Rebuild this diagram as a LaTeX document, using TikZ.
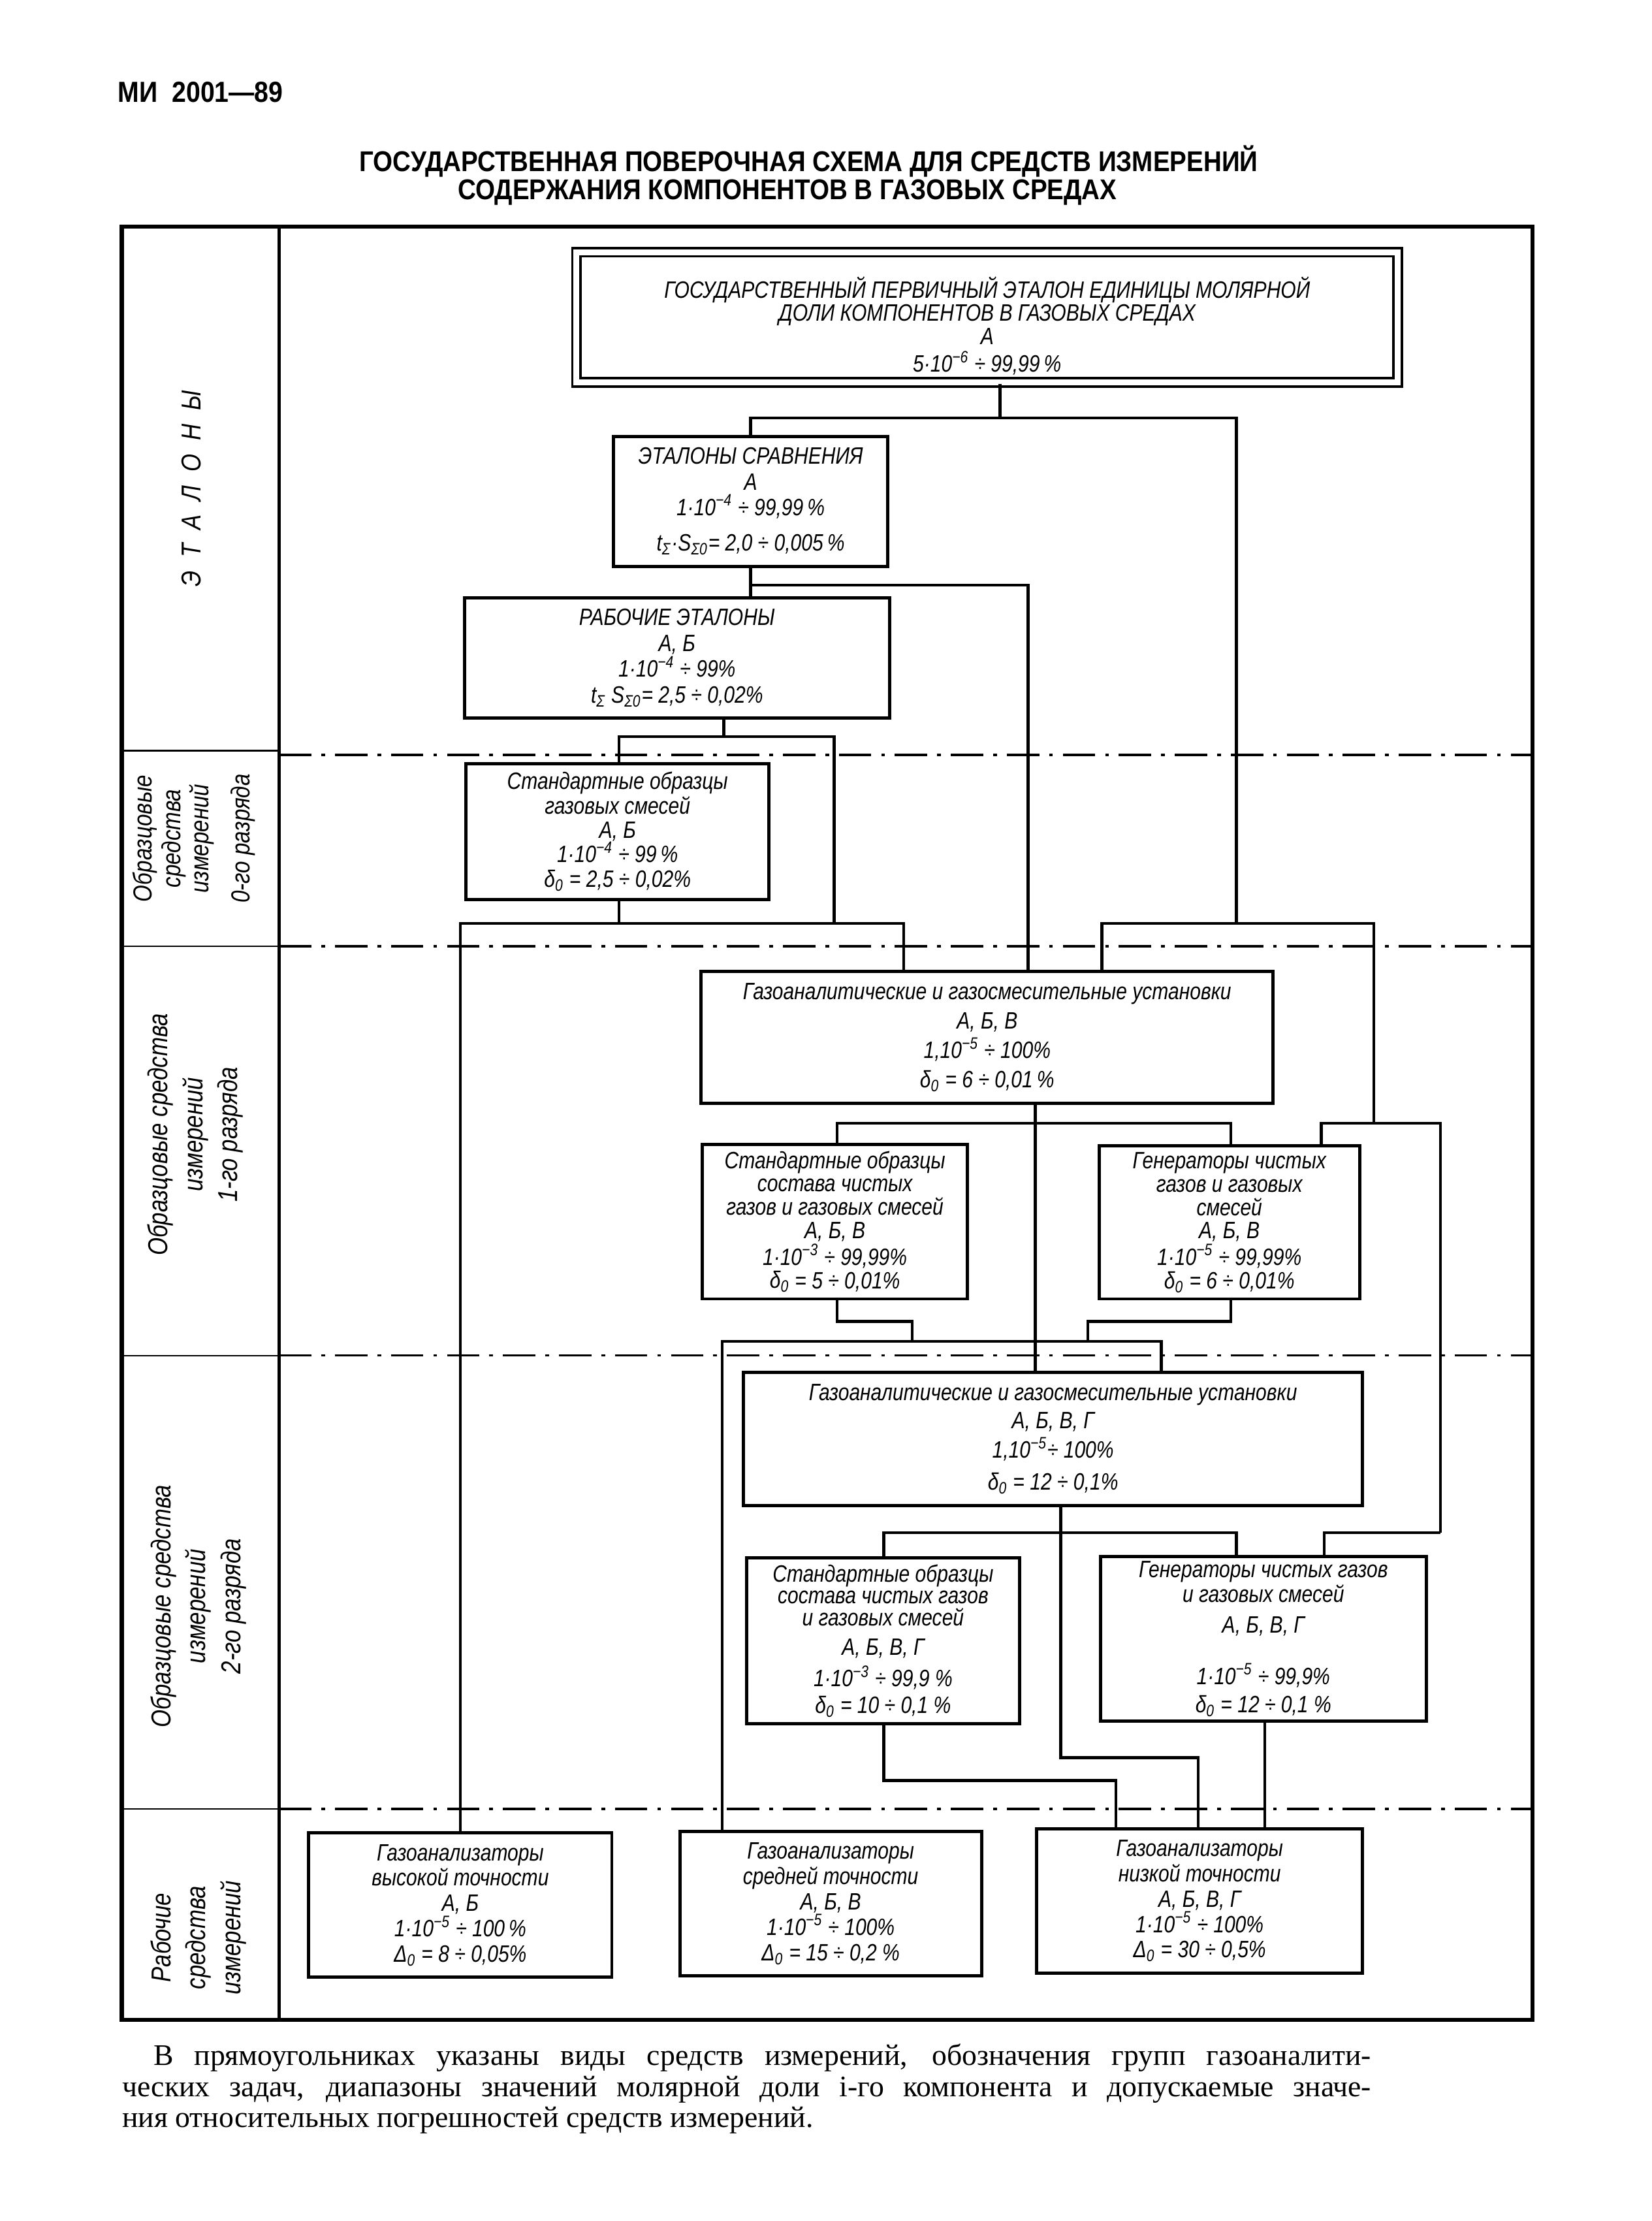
\documentclass[tikz,border=0pt]{standalone}
\usepackage{fontspec}
\setmainfont{Liberation Serif}
\newfontfamily\gostfont[FakeStretch=0.83]{Liberation Sans}
\newfontfamily\headfont[FakeStretch=0.88]{Liberation Sans}

\begin{document}
\begin{tikzpicture}[
    x=0.02cm, y=-0.02cm,
    box/.style={draw, line width=1.3pt, inner sep=0pt, align=center, font=\gostfont\itshape\fontsize{9.5}{9.8}\selectfont},
    densebox/.style={box, font=\gostfont\itshape\fontsize{9.5}{9.4}\selectfont},
    tightbox/.style={box, font=\gostfont\itshape\fontsize{9.5}{8.8}\selectfont},
    mainbox/.style={box, double, double distance=2.4pt, line width=1pt, font=\gostfont\itshape\fontsize{9.5}{9.3}\selectfont},
    link/.style={line width=1.2pt},
    sep/.style={line width=0.9pt, dash pattern=on 13pt off 4pt on 1.5pt off 4pt},
    rowlabel/.style={rotate=90, align=center, font=\gostfont\itshape\fontsize{11}{14}\selectfont},
    note/.style={anchor=base west, inner sep=0pt, font=\fontsize{12}{14}\selectfont}
]
\useasboundingbox (0,0) rectangle (1166,1568);

% шапка
\node[anchor=base west, inner sep=0pt, font=\headfont\bfseries\fontsize{11.7}{14}\selectfont] (doc_code) at (83,72) {МИ\ \ 2001—89};
\node[anchor=base, font=\headfont\bfseries\fontsize{11.5}{13}\selectfont] (title_1) at (571,121) {ГОСУДАРСТВЕННАЯ ПОВЕРОЧНАЯ СХЕМА ДЛЯ СРЕДСТВ ИЗМЕРЕНИЙ};
\node[anchor=base, font=\headfont\bfseries\fontsize{11.5}{13}\selectfont] (title_2) at (556,141) {СОДЕРЖАНИЯ КОМПОНЕНТОВ В ГАЗОВЫХ СРЕДАХ};

% рамка и разряды
\draw[line width=1.6pt] (86,160) rectangle (1082,1426);
\draw[line width=1.3pt] (197,160) -- (197,1426);
\foreach \yy in {530,668,957,1277}
    \draw[line width=0.6pt] (86,\yy) -- (197,\yy);
\foreach \yy in {533,668,957,1277}
    \draw[sep] (197,\yy) -- (1082,\yy);

\node[rowlabel] (row_std) at (135,345) {Э\enspace Т\enspace А\enspace Л\enspace О\enspace Н\enspace Ы};
\node[rowlabel, font=\gostfont\itshape\fontsize{10.5}{11.4}\selectfont] (row_0) at (137,592) {Образцовые\\средства\\измерений\\[5pt]0-го разряда};
\node[rowlabel] (row_1) at (138,801) {Образцовые средства\\измерений\\1-го разряда};
\node[rowlabel] (row_2) at (140,1134) {Образцовые средства\\измерений\\2-го разряда};
\node[rowlabel] (row_work) at (140,1368) {Рабочие\\средства\\измерений};

% эталоны
\node[mainbox, minimum width=11.6cm, minimum height=1.84cm] (primary) at (697,224) {\rule{0pt}{15.5pt}ГОСУДАРСТВЕННЫЙ ПЕРВИЧНЫЙ ЭТАЛОН ЕДИНИЦЫ МОЛЯРНОЙ\\ДОЛИ КОМПОНЕНТОВ В ГАЗОВЫХ СРЕДАХ\\А\\[1.8pt]5·10\textsuperscript{−6} ÷ 99,99\,\%};
\node[box, minimum width=3.88cm, minimum height=1.84cm] (ref_std) at (530,354) {ЭТАЛОНЫ СРАВНЕНИЯ\\[0.5pt]А\\[0.5pt]1·10\textsuperscript{−4} ÷ 99,99\,\%\\[4.5pt]t\textsubscript{Σ}·S\textsubscript{Σ0}= 2,0 ÷ 0,005\,\%};
\node[box, minimum width=6cm, minimum height=1.7cm] (work_std) at (478,464.5) {РАБОЧИЕ ЭТАЛОНЫ\\[0.6pt]А, Б\\[0.6pt]1·10\textsuperscript{−4} ÷ 99\%\\[0.6pt]t\textsubscript{Σ} S\textsubscript{Σ0}= 2,5 ÷ 0,02\%};

% 0-й разряд
\node[box, minimum width=4.28cm, minimum height=1.92cm] (so_0) at (436,587) {Стандартные образцы\\газовых смесей\\А, Б\\1·10\textsuperscript{−4} ÷ 99\,\%\\δ\textsubscript{0} = 2,5 ÷ 0,02\%};

% 1-й разряд
\node[box, minimum width=8.08cm, minimum height=1.86cm] (gas_inst_1) at (697,732.5) {Газоаналитические и газосмесительные установки\\[2pt]А, Б, В\\[2pt]1,10\textsuperscript{−5} ÷ 100\%\\[2pt]δ\textsubscript{0} = 6 ÷ 0,01\,\%};
\node[densebox, minimum width=3.74cm, minimum height=2.18cm] (so_1) at (589.5,862.5) {Стандартные образцы\\состава чистых\\газов и газовых смесей\\А, Б, В\\1·10\textsuperscript{−3} ÷ 99,99\%\\δ\textsubscript{0} = 5 ÷ 0,01\%};
\node[densebox, minimum width=3.68cm, minimum height=2.16cm] (gen_1) at (868,863) {Генераторы чистых\\газов и газовых\\смесей\\А, Б, В\\1·10\textsuperscript{−5} ÷ 99,99\%\\δ\textsubscript{0} = 6 ÷ 0,01\%};

% 2-й разряд
\node[box, minimum width=8.74cm, minimum height=1.88cm] (gas_inst_2) at (743.5,1016) {Газоаналитические и газосмесительные установки\\[1.5pt]А, Б, В, Г\\[2pt]1,10\textsuperscript{−5}÷ 100\%\\[3pt]δ\textsubscript{0} = 12 ÷ 0,1\%};
\node[tightbox, minimum width=3.86cm, minimum height=2.34cm] (so_2) at (623.5,1158.5) {Стандартные образцы\\состава чистых газов\\и газовых смесей\\[3pt]А, Б, В, Г\\[2pt]1·10\textsuperscript{−3} ÷ 99,9 \%\\[2pt]δ\textsubscript{0} = 10 ÷ 0,1 \%};
\node[tightbox, minimum width=4.6cm, minimum height=2.32cm] (gen_2) at (892,1157) {Генераторы чистых газов\\и газовых смесей\\[3.5pt]А, Б, В, Г\\[10pt]1·10\textsuperscript{−5} ÷ 99,9\%\\[2.5pt]δ\textsubscript{0} = 12 ÷ 0,1 \%};

% рабочие средства
\node[box, minimum width=4.28cm, minimum height=2.04cm] (an_high) at (325,1345) {Газоанализаторы\\[0.4pt]высокой точности\\[0.4pt]А, Б\\[0.4pt]1·10\textsuperscript{−5} ÷ 100\,\%\\[0.4pt]Δ\textsubscript{0} = 8 ÷ 0,05\%};
\node[box, minimum width=4.26cm, minimum height=2.04cm] (an_mid) at (586.5,1344) {Газоанализаторы\\[0.4pt]средней точности\\[0.4pt]А, Б, В\\[0.4pt]1·10\textsuperscript{−5} ÷ 100\%\\[0.4pt]Δ\textsubscript{0} = 15 ÷ 0,2 \%};
\node[box, minimum width=4.6cm, minimum height=2.04cm] (an_low) at (847,1342) {Газоанализаторы\\[0.4pt]низкой точности\\[0.4pt]А, Б, В, Г\\[0.4pt]1·10\textsuperscript{−5} ÷ 100\%\\[0.4pt]Δ\textsubscript{0} = 30 ÷ 0,5\%};

% узлы линий
\coordinate (t1) at (706,295);
\coordinate (rr) at (873,652);
\coordinate (e2) at (726,413);
\coordinate (r0) at (437,520);
\coordinate (r1) at (511,520);
\coordinate (r2) at (589,652);
\coordinate (h0) at (638,652);
\coordinate (h1) at (778,652);
\coordinate (gr) at (970,793);
\coordinate (h2) at (933,793);
\coordinate (h2r) at (1017,1082);
\coordinate (h3) at (935,1082);
\coordinate (g1) at (731,793);
\coordinate (h4l) at (591,793);
\coordinate (h4r) at (869,793);
\coordinate (k1) at (644,933);
\coordinate (k2) at (768,933);
\coordinate (h5l) at (510,947);
\coordinate (h5r) at (820,947);
\coordinate (m1) at (749,1241);
\coordinate (m2) at (846,1241);
\coordinate (h6l) at (624,1082);
\coordinate (h6r) at (873,1082);
\coordinate (m3) at (788,1257);
\coordinate (m4) at (893,1250);

% линии передачи
\draw[link] (primary.south -| t1) -- (t1);
\draw[link] (ref_std.north) |- (t1) -| (rr);
\draw[link] (ref_std.south) -- (ref_std.south |- work_std.north);
\draw[link] (ref_std.south |- e2) -- (e2) -- (e2 |- gas_inst_1.north);
\draw[link] (work_std.south -| r1) -- (r1);
\draw[link] (so_0.north -| r0) -- (r0) -| (r2);
\draw[link] (so_0.south -| r0) -- (r0 |- r2);
\draw[link] (an_high.north) |- (h0) -- (gas_inst_1.north -| h0);
\draw[link] (gas_inst_1.north -| h1) -- (h1) -| (gr);
\draw[link] (gen_1.north -| h2) -- (h2) -| (h2r);
\draw[link] (h2r) -- (h3) -- (gen_2.north -| h3);
\draw[link] (gas_inst_1.south -| g1) -- (g1 |- gas_inst_2.north);
\draw[link] (so_1.north -| h4l) -- (h4l) -- (h4r) -- (gen_1.north -| h4r);
\draw[link] (so_1.south -| h4l) |- (k1) -- (k1 |- h5l);
\draw[link] (gen_1.south -| h4r) |- (k2) -- (k2 |- h5l);
\draw[link] (an_mid.north -| h5l) -- (h5l) -- (h5r) -- (gas_inst_2.north -| h5r);
\draw[link] (gas_inst_2.south -| m1) -- (m1) -- (m2) -- (an_low.north -| m2);
\draw[link] (so_2.north -| h6l) -- (h6l) -- (h6r) -- (gen_2.north -| h6r);
\draw[link] (so_2.south -| h6l) |- (m3) -- (an_low.north -| m3);
\draw[link] (gen_2.south -| m4) -- (an_low.north -| m4);

% примечание
\node[note] (note_1) at (108,1458) {\makebox[17.2cm][s]{В прямоугольниках указаны виды средств измерений, обозначения групп газоаналити-}};
\node[note] (note_2) at (86,1480) {\makebox[17.64cm][s]{ческих задач, диапазоны значений молярной доли i-го компонента и допускаемые значе-}};
\node[note] (note_3) at (86,1502) {ния относительных погрешностей средств измерений.};

\end{tikzpicture}
\end{document}
